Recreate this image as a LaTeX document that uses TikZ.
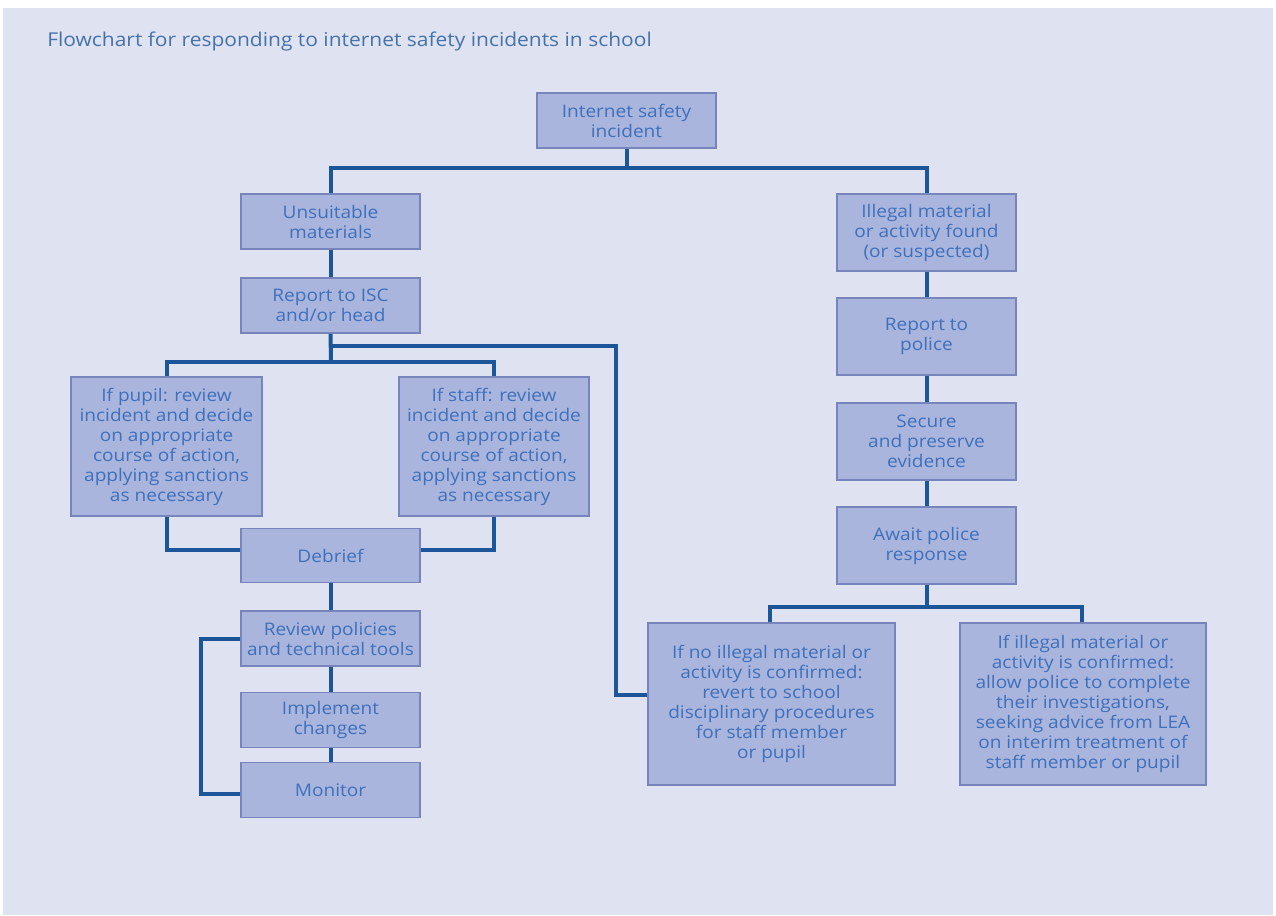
\documentclass[tikz,border=0pt]{standalone}
\usepackage{fontspec}
\setmainfont[FakeStretch=1.1]{Open Sans}
\definecolor{bg}{HTML}{DFE2F0}
\definecolor{boxfill}{HTML}{A9B5DC}
\definecolor{boxline}{HTML}{7785BC}
\definecolor{conn}{HTML}{1C5699}
\definecolor{txt}{HTML}{3F70BC}
\definecolor{ttl}{HTML}{4672AA}
\begin{document}
\begin{tikzpicture}[x=0.75pt,y=-0.75pt,
  box/.style={draw=boxline,line width=1.4pt,fill=boxfill,inner sep=0pt,align=center,
    text=txt,font=\fontsize{13}{15}\selectfont},
  bw/.style={minimum width={#1*0.75pt}},
  bh/.style={minimum height={#1*0.75pt}},
  link/.style={draw=conn,line width=3pt,line cap=butt}]
\useasboundingbox (0,0) rectangle (1276,915);
\fill[bg] (0,0) rectangle (1276,915);
\fill[white] (0,0) rectangle (1276,8);
\fill[white] (0,0) rectangle (3,915);
\fill[white] (1273,0) rectangle (1276,915);
\node[anchor=west,inner sep=0pt,text=ttl,font=\fontsize{14.3}{17}\selectfont] (title) at (47,41) {Flowchart for responding to internet safety incidents in school};
% nodes
\node[box,bw=179,bh=55] (inc) at (626.5,120.5) {Internet safety\\incident};
\node[box,bw=179,bh=55] (unsuit) at (330.5,221.5) {Unsuitable\\materials};
\node[box,bw=179,bh=55] (report) at (330.5,305.5) {Report to ISC\\and/or head};
\node[box,bw=179,bh=77] (illegal) at (926.5,232.5) {Illegal material\\or activity found\\(or suspected)};
\node[box,bw=179,bh=77] (police) at (926.5,336.5) {Report to\\police};
\node[box,bw=179,bh=77] (secure) at (926.5,441.5) {Secure\\and preserve\\evidence};
\node[box,bw=179,bh=77] (await) at (926.5,545.5) {Await police\\response};
\node[box,bw=191,bh=139] (pupil) at (166.5,446.5) {If pupil: review\\incident and decide\\on appropriate\\course of action,\\applying sanctions\\as necessary};
\node[box,bw=190,bh=139] (staff) at (494,446.5) {If staff: review\\incident and decide\\on appropriate\\course of action,\\applying sanctions\\as necessary};
\node[box,bw=179,bh=54] (debrief) at (330.5,555.5) {Debrief};
\node[box,bw=179,bh=55] (review) at (330.5,638.5) {Review policies\\and technical tools};
\node[box,bw=179,bh=55] (implement) at (330.5,720) {Implement\\changes};
\node[box,bw=179,bh=55] (monitor) at (330.5,790) {Monitor};
\node[box,bw=247,bh=162] (noill) at (771.5,704) {If no illegal material or\\activity is confirmed:\\revert to school\\disciplinary procedures\\for staff member\\or pupil};
\node[box,bw=246,bh=162] (conf) at (1083,704) {If illegal material or\\activity is confirmed:\\allow police to complete\\their investigations,\\seeking advice from LEA\\on interim treatment of\\staff member or pupil};
% junctions
\coordinate (j1) at (626.5,168);
\coordinate (j2) at (331,362);
\coordinate (j3) at (331,346);
\coordinate (k) at (616,695);
\coordinate (j4) at (926.5,607);
\coordinate (loop) at (201,638.5);
% connectors
\draw[link] (inc.south) -- (j1);
\draw[link] (unsuit.north) |- (j1) -| (illegal.north);
\draw[link] (unsuit.south) -- (report.north);
\draw[link] (report.south) -- (j2);
\draw[link] (pupil.north) |- (j2) -| (staff.north);
\draw[link] (j3) -| (k) -- (noill.west |- k);
\draw[link] (pupil.south) |- ([yshift=4.5pt]debrief.west);
\draw[link] (staff.south) |- ([yshift=4.5pt]debrief.east);
\draw[link] (debrief.south) -- (review.north);
\draw[link] (review.south) -- (implement.north);
\draw[link] (implement.south) -- (monitor.north);
\draw[link] (review.west) -- (loop) |- ([yshift=-3pt]monitor.west);
\draw[link] (illegal.south) -- (police.north);
\draw[link] (police.south) -- (secure.north);
\draw[link] (secure.south) -- (await.north);
\draw[link] (await.south) -- (j4);
\draw[link] ([xshift=-1.5pt]noill.north) |- (j4) -| ([xshift=-0.75pt]conf.north);
\end{tikzpicture}
\end{document}
